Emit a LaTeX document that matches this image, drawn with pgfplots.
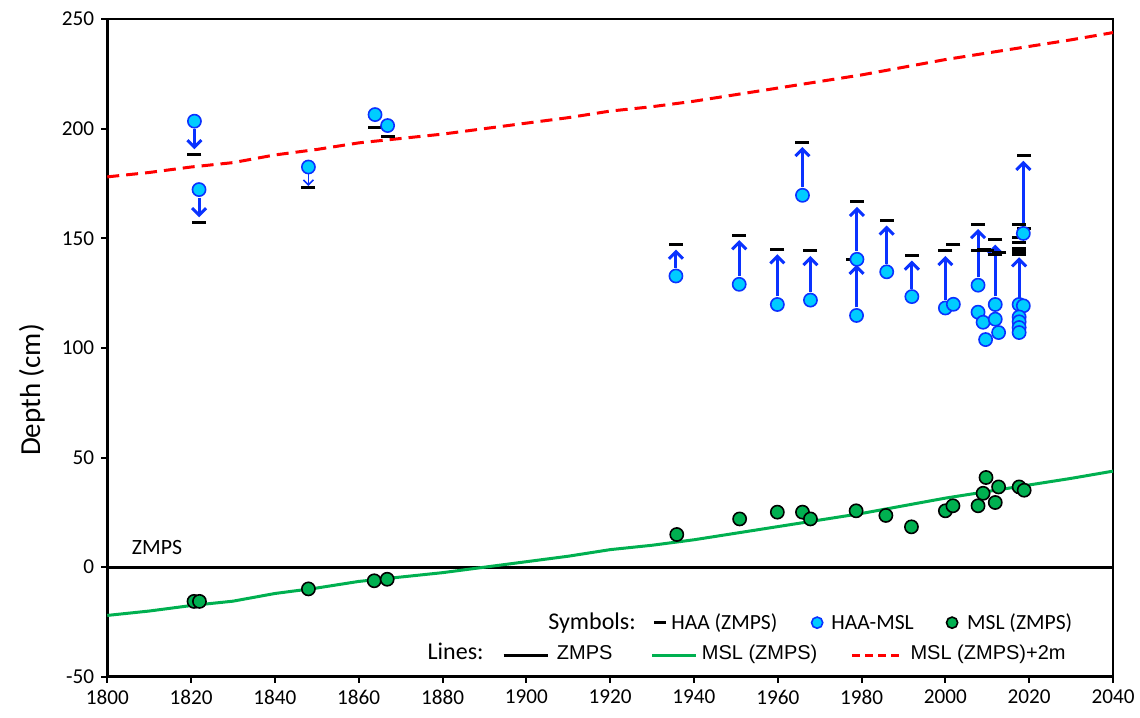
\documentclass[border=0pt]{standalone}
\usepackage{fontspec}
\setmainfont{Carlito}
\newfontfamily\arialfont{Liberation Sans}
\usepackage{pgfplots}
\pgfplotsset{compat=1.18}
\usetikzlibrary{arrows.meta,calc}
\definecolor{haablue}{RGB}{0,204,255}
\definecolor{arrowblue}{RGB}{10,50,255}
\definecolor{mslgreen}{RGB}{0,176,80}

\pgfplotstableread{
x y
1800 -22
1810 -20
1820 -17.5
1830 -15.5
1840 -12
1850 -9.5
1860 -6.5
1870 -4.5
1880 -2.5
1890 0
1900 2.5
1910 5
1920 8
1930 10
1940 12.5
1950 15.5
1960 18.5
1970 21.5
1980 24.5
1990 28
2000 31.5
2010 34.5
2020 37.5
2030 40.5
2040 43.8
}\msltrend

\pgfplotstableread{
x y
1800 178
1810 180
1820 182.5
1830 184.5
1840 188
1850 190.5
1860 193.5
1870 195.5
1880 197.5
1890 200
1900 202.5
1910 205
1920 208
1930 210
1940 212.5
1950 215.5
1960 218.5
1970 221.5
1980 224.5
1990 228
2000 231.5
2010 234.5
2020 237.5
2030 240.5
2040 243.8
}\mslplus

\pgfplotstableread{
x y
1820.8 188.3
1821.9 157.3
1848.0 173.1
1863.9 200.6
1866.9 196.4
1935.7 147.1
1950.8 151.4
1959.9 145.0
1965.9 193.9
1967.8 144.2
1978.9 166.6
1978.0 140.2
1986.0 158.1
1992.0 142.1
2000.0 144.2
2001.9 147.1
2007.8 156.5
2007.8 144.4
2009.2 145.0
2010.0 144.5
2011.9 149.4
2011.9 142.7
2012.9 143.5
2017.6 156.5
2018.8 154.3
2017.6 150.3
2017.6 147.9
2017.6 145.5
2017.6 144.0
2017.6 142.8
2018.8 187.6
}\haa

\pgfplotstableread{
x y
1820.8 203.4
1821.9 172.2
1848.0 182.5
1863.9 206.4
1866.9 201.4
1935.7 132.8
1950.8 129.0
1959.9 119.8
1965.9 169.6
1967.8 121.8
1978.9 140.4
1978.8 114.8
1986.0 134.7
1992.0 123.4
2000.0 118.2
2001.9 119.9
2007.8 128.6
2007.8 116.3
2009.0 111.7
2009.6 103.8
2011.9 119.8
2011.9 113.1
2012.7 107.0
2017.6 119.8
2018.6 119.2
2017.6 114.1
2017.6 111.9
2017.6 109.3
2017.6 107.0
2018.6 152.2
}\haamsl

\pgfplotstableread{
x y
1820.7 -15.6
1822.0 -15.6
1848.0 -9.9
1863.7 -6.2
1866.8 -5.5
1935.9 14.9
1950.9 22.0
1959.9 25.1
1965.9 25.1
1967.8 22.0
1978.7 25.7
1985.8 23.6
1991.9 18.4
2000.0 25.7
2001.8 28.0
2007.8 28.0
2009.0 33.7
2009.7 40.9
2011.9 29.5
2012.7 36.6
2017.6 36.6
2018.8 35.1
}\msl

\pgfplotstableread{
x y u v
1820.8 203.4 0 -15.1
1821.9 172.2 0 -14.9
1935.7 132.8 0 14.3
1950.8 129.0 0 22.4
1959.9 119.8 0 25.2
1965.9 169.6 0 24.3
1967.8 121.8 0 22.4
1978.9 140.4 0 26.2
1978.8 114.8 0 25.4
1986.0 134.7 0 23.4
1992.0 123.4 0 18.7
2000.0 118.2 0 26.0
2007.8 128.6 0 27.9
2011.9 119.8 0 29.6
2017.6 107.0 0 36.6
2018.6 152.2 0 35.4
}\arrowsthick

\pgfplotstableread{
x y u v
1848.0 182.5 0 -9.4
}\arrowsthin

\begin{document}
\begin{tikzpicture}
\begin{axis}[
  scale only axis, width=503pt, height=329pt,
  xmin=1800, xmax=2040, ymin=-50, ymax=250,
  xtick distance=20, ytick distance=50,
  /pgf/number format/assume math mode=true,
  /pgf/number format/1000 sep={},
  tick label style={font=\fontsize{10.6}{12}\selectfont, black},
  tick align=outside, xtick pos=bottom, ytick pos=left,
  major tick length=3pt,
  every tick/.style={black, line width=1pt},
  axis line style={line width=0.6pt},
  ylabel={Depth (cm)},
  ylabel style={font=\fontsize{14.5}{16}\selectfont, at={(axis description cs:-0.075,0.436)}, anchor=center},
  clip=false,
]
% axis emphasis
\draw[line width=1.5pt] (rel axis cs:0,1) -- (rel axis cs:0,0) -- (rel axis cs:1,0);
\coordinate (SW) at (rel axis cs:0,0);
\coordinate (NE) at (rel axis cs:1,1);

% lines
\addplot[black, line width=1.4pt, forget plot] coordinates {(1800,0) (2040,0)};
\addplot[mslgreen, line width=1.5pt, forget plot] table[x=x,y=y] {\msltrend};
\addplot[red, line width=1.5pt, dash pattern=on 6pt off 3.5pt, forget plot] table[x=x,y=y] {\mslplus};

% HAA dashes
\addplot[only marks, mark=-, mark size=3.5pt, mark options={line width=1.5pt, black}, forget plot] table[x=x,y=y] {\haa};
% HAA-MSL dots
\addplot[only marks, mark=*, mark size=3.3pt, mark options={fill=haablue, draw=arrowblue, line width=0.8pt}, forget plot] table[x=x,y=y] {\haamsl};
% MSL dots
\addplot[only marks, mark=*, mark size=3.3pt, mark options={fill=mslgreen, draw=black, line width=0.8pt}, forget plot] table[x=x,y=y] {\msl};

% arrows
\addplot[arrowblue, line width=1.5pt, -{Straight Barb[length=3.5pt,width=7pt,line width=1.5pt]},
  shorten <=4pt, shorten >=2.5pt, quiver={u=\thisrow{u}, v=\thisrow{v}}, forget plot] table[x=x,y=y] {\arrowsthick};
\addplot[arrowblue, line width=0.8pt, -{Straight Barb[length=2.5pt,width=5pt,line width=0.8pt]},
  shorten <=3.6pt, shorten >=0.8pt, quiver={u=\thisrow{u}, v=\thisrow{v}}, forget plot] table[x=x,y=y] {\arrowsthin};

% ZMPS label
\node[anchor=west, font=\fontsize{10.9}{12}\selectfont] at (axis cs:1804.2,9.0) {ZMPS};

% legend row 1
\node[anchor=base east, font=\fontsize{12}{13}\selectfont, inner sep=0pt] at (axis cs:1926.2,-28.3) {Symbols:};
\addplot[only marks, mark=-, mark size=3pt, mark options={line width=1.5pt, black}, forget plot] coordinates {(1931.9,-25.3)};
\node[anchor=base west, font=\fontsize{10.8}{12}\selectfont, inner sep=0pt] at (axis cs:1934.5,-28.3) {HAA (ZMPS)};
\addplot[only marks, mark=*, mark size=2.8pt, mark options={fill=haablue, draw=arrowblue, line width=0.8pt}, forget plot] coordinates {(1969.4,-25.3)};
\node[anchor=base west, font=\fontsize{10.8}{12}\selectfont, inner sep=0pt] at (axis cs:1972.7,-28.3) {HAA-MSL};
\addplot[only marks, mark=*, mark size=2.8pt, mark options={fill=mslgreen, draw=black, line width=0.8pt}, forget plot] coordinates {(2001.6,-25.3)};
\node[anchor=base west, font=\fontsize{10.8}{12}\selectfont, inner sep=0pt] at (axis cs:2005.1,-28.3) {MSL (ZMPS)};

% legend row 2
\node[anchor=base east, font=\fontsize{12}{13}\selectfont, inner sep=0pt] at (axis cs:1889.9,-42.0) {Lines:};
\addplot[black, line width=1.4pt, forget plot] coordinates {(1894.6,-40.1) (1905.2,-40.1)};
\node[anchor=base west, font=\arialfont\fontsize{10}{12}\selectfont, inner sep=0pt] at (axis cs:1907.2,-42.0) {ZMPS};
\addplot[mslgreen, line width=1.5pt, forget plot] coordinates {(1930.0,-40.1) (1940.6,-40.1)};
\node[anchor=base west, font=\arialfont\fontsize{10}{12}\selectfont, inner sep=0pt] at (axis cs:1941.8,-42.0) {MSL (ZMPS)};
\addplot[red, line width=1.5pt, dash pattern=on 4pt off 2.5pt, forget plot] coordinates {(1977.8,-40.1) (1989.0,-40.1)};
\node[anchor=base west, font=\arialfont\fontsize{10}{12}\selectfont, inner sep=0pt] at (axis cs:1991.6,-42.0) {MSL (ZMPS)+2m};
\end{axis}
\pgfresetboundingbox
\path ($(SW)+(-53.65pt,-20.5pt)$) rectangle ($(NE)+(13.5pt,9.5pt)$);
\end{tikzpicture}
\end{document}
